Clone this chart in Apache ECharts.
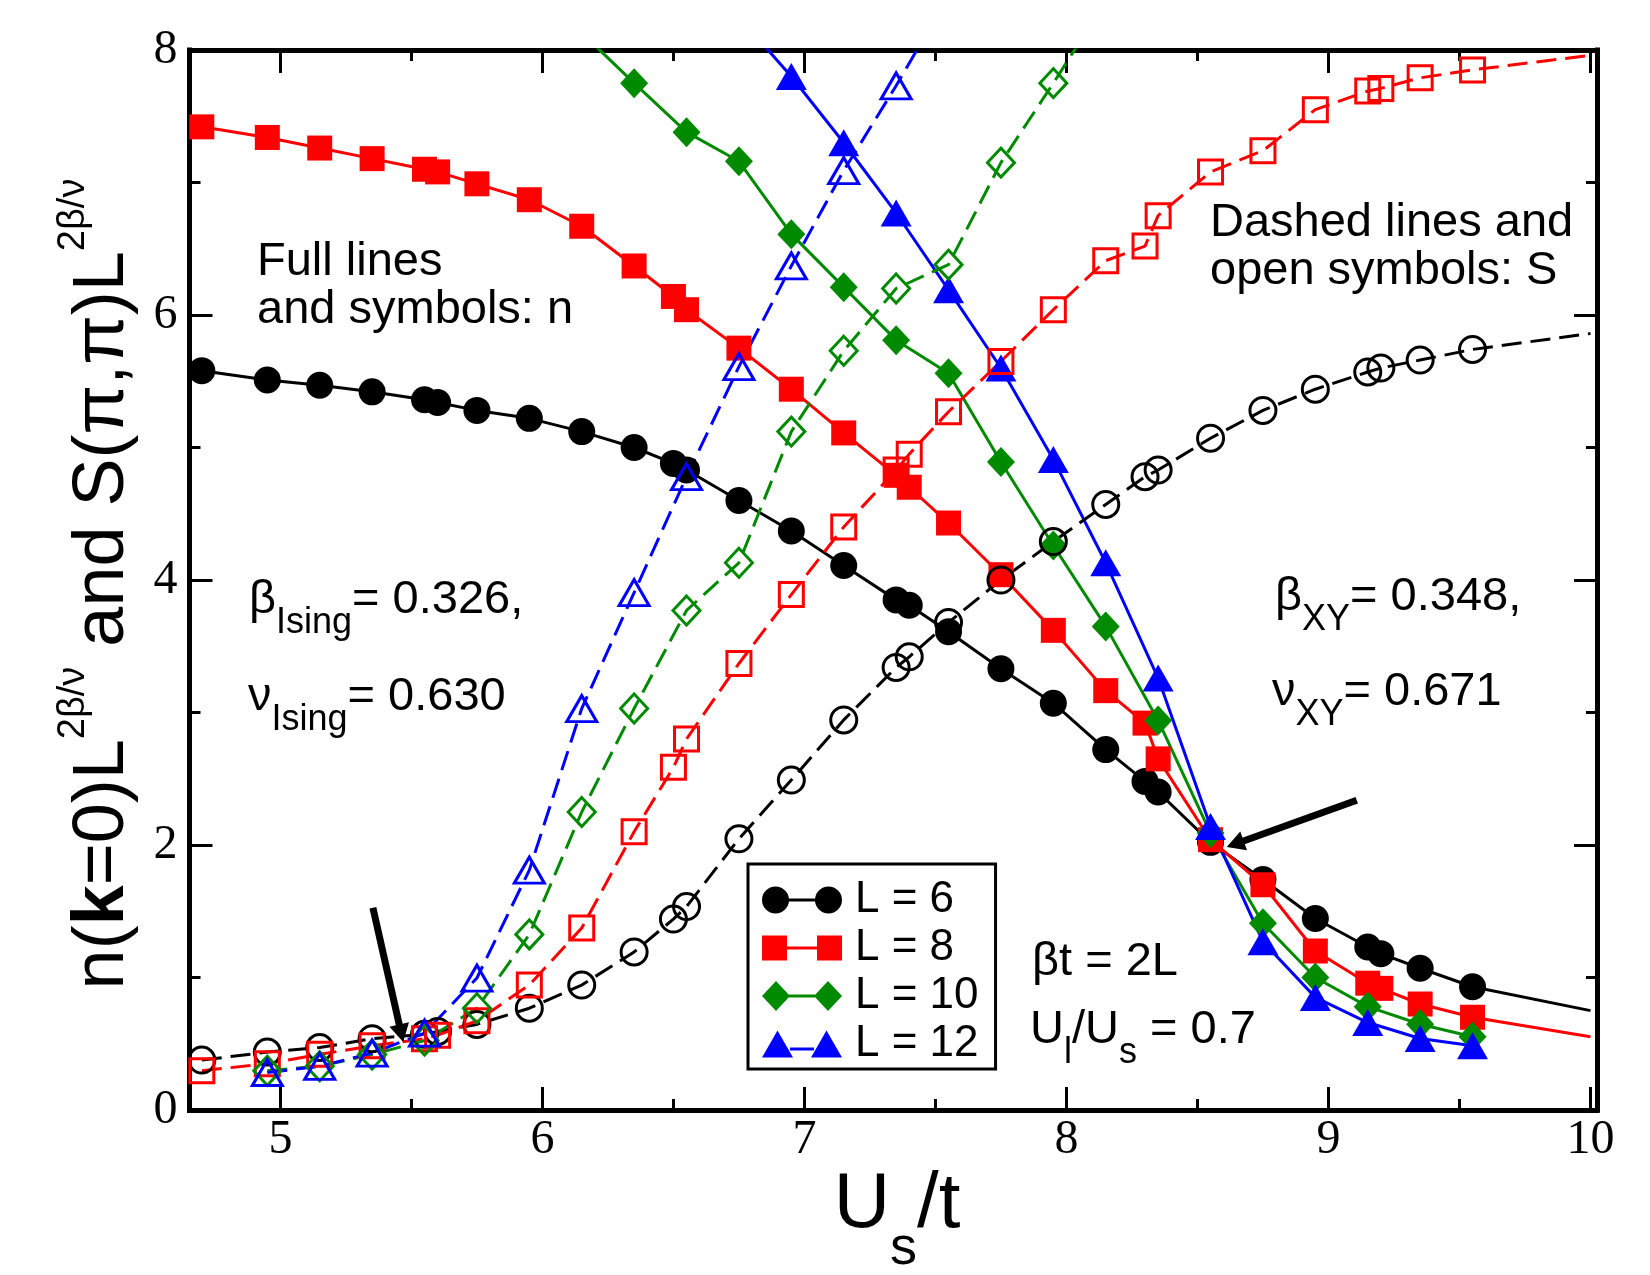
<!DOCTYPE html>
<html lang="en">
<head>
<meta charset="UTF-8">
<title>n(k=0) and S(pi,pi) vs Us/t</title>
<script src="https://cdn.jsdelivr.net/npm/echarts@6.0.0/dist/echarts.min.js"></script>
<style>html,body{margin:0;padding:0;background:#fff;}</style>
</head>
<body>
<div id="main" style="width:1650px;height:1275px;"></div>
<script type="text/javascript">

// U_s/t values used by the L = 6 and L = 8 sets (10 = where the line leaves the frame)
const usAll = [4.7, 4.95, 5.15, 5.35, 5.55, 5.6, 5.75, 5.95, 6.15, 6.35, 6.5, 6.55, 6.75, 6.95, 7.15,
  7.35, 7.4, 7.55, 7.75, 7.95, 8.15, 8.3, 8.35, 8.55, 8.75, 8.95, 9.15, 9.2, 9.35, 9.55, 10];

// full lines, filled symbols: n(k=0) L^(2b/v)
const n6 = [5.58, 5.51, 5.47, 5.42, 5.36, 5.34, 5.28, 5.22, 5.12, 5.00, 4.88, 4.83, 4.60, 4.37, 4.11,
  3.85, 3.81, 3.61, 3.33, 3.07, 2.72, 2.48, 2.40, 2.02, 1.74, 1.445, 1.23, 1.18, 1.07, 0.93, 0.75];
const n8 = [7.42, 7.34, 7.26, 7.18, 7.10, 7.08, 6.99, 6.87, 6.67, 6.37, 6.14, 6.04, 5.75, 5.44, 5.11,
  4.79, 4.70, 4.43, 4.04, 3.62, 3.165, 2.92, 2.65, 2.04, 1.70, 1.20, 0.957, 0.918, 0.80, 0.70, 0.553];
const usN10 = [6.15, 6.35, 6.55, 6.75, 6.95, 7.15, 7.35, 7.55, 7.75, 7.95, 8.15, 8.35, 8.55, 8.75, 8.95, 9.15, 9.35, 9.55];
const n10 = [8.13, 7.75, 7.38, 7.16, 6.61, 6.21, 5.81, 5.56, 4.89, 4.26, 3.65, 2.94, 2.09, 1.41, 1.00, 0.78, 0.647, 0.553];
const usN12 = [6.75, 6.95, 7.15, 7.35, 7.55, 7.75, 7.95, 8.15, 8.35, 8.55, 8.75, 8.95, 9.15, 9.35, 9.55];
const n12 = [8.25, 7.80, 7.30, 6.77, 6.19, 5.60, 4.91, 4.13, 3.26, 2.14, 1.27, 0.85, 0.66, 0.54, 0.485];

// dashed lines, open symbols: S(pi,pi) L^(2b/v)
const s6 = [0.377, 0.437, 0.471, 0.538, 0.571, 0.593, 0.646, 0.768, 0.943, 1.193, 1.441, 1.535, 2.047, 2.49, 2.944,
  3.34, 3.42, 3.68, 4.00, 4.29, 4.57, 4.78, 4.83, 5.07, 5.28, 5.44, 5.57, 5.60, 5.66, 5.74, 5.86];
const s8 = [0.296, 0.35, 0.42, 0.485, 0.538, 0.565, 0.673, 0.943, 1.373, 2.10, 2.586, 2.80, 3.37, 3.89, 4.40,
  4.83, 4.95, 5.27, 5.65, 6.04, 6.41, 6.52, 6.75, 7.08, 7.24, 7.55, 7.69, 7.71, 7.79, 7.85, 7.96];
const usS10 = [4.95, 5.15, 5.35, 5.55, 5.75, 5.95, 6.15, 6.35, 6.55, 6.75, 6.95, 7.15, 7.35, 7.55, 7.75, 7.95, 8.15];
const s10 = [0.296, 0.33, 0.418, 0.525, 0.768, 1.325, 2.249, 3.03, 3.77, 4.13, 5.12, 5.73, 6.20, 6.38, 7.15, 7.75, 8.37];
const usS12 = [4.95, 5.15, 5.35, 5.55, 5.75, 5.95, 6.15, 6.35, 6.55, 6.75, 6.95, 7.15, 7.35, 7.55];
const s12 = [0.283, 0.33, 0.43, 0.58, 0.996, 1.81, 3.03, 3.905, 4.78, 5.61, 6.37, 7.09, 7.73, 8.41];

const legendNames = ['L = 6', 'L = 8', 'L = 10', 'L = 12'];
const colors = ['#000000', '#ff0000', '#008a00', '#0000ff'];

// the two arrows pointing at the crossings
const arrowLeft = [[5.353, 1.526], [5.461, 0.579]];
const arrowRight = [[9.108, 2.338], [8.644, 2.008]];

const SANS = "'Liberation Sans', Arial, Helvetica, sans-serif";
const SERIF = "'Liberation Serif', 'Times New Roman', serif";

function pts(xs, ys) {
  return xs.map((x, i) => x >= 10 ? { value: [x, ys[i]], symbol: 'none' } : [x, ys[i]]);
}

function nSeries(name, color, symbol, size, xs, ys) {
  return {
    name: name, type: 'line', data: pts(xs, ys),
    symbol: symbol, symbolSize: size, showAllSymbol: true,
    itemStyle: { color: color },
    lineStyle: { color: color, width: 3 },
    emphasis: { disabled: true }, silent: true, clip: true
  };
}

function sSeries(name, color, symbol, size, xs, ys) {
  return {
    name: name, type: 'line', data: pts(xs, ys),
    symbol: symbol, symbolSize: size, showAllSymbol: true,
    itemStyle: { color: 'rgba(0,0,0,0)', borderColor: color, borderWidth: 3 },
    lineStyle: { color: color, width: 3, type: [20, 9] },
    emphasis: { disabled: true }, silent: true, clip: true
  };
}

const icons = [
  'path://M0,13.5A13.5,13.5,0,1,1,27,13.5A13.5,13.5,0,1,1,0,13.5ZM53,13.5A13.5,13.5,0,1,1,80,13.5A13.5,13.5,0,1,1,53,13.5ZM25,12L55,12L55,15L25,15Z',
  'path://M0,0L25,0L25,25L0,25ZM55,0L80,0L80,25L55,25ZM24,11L56,11L56,14L24,14Z',
  'path://M0,15L14,0L28,15L14,30ZM52,15L66,0L80,15L66,30ZM27,13.5L53,13.5L53,16.5L27,16.5Z',
  'path://M0,27L15.5,0L31,27ZM49,27L64.5,0L80,27ZM28,17L52,17L52,20L28,20Z'
];

const series = [
  nSeries(legendNames[0], colors[0], 'circle', 27, usAll, n6),
  nSeries(legendNames[1], colors[1], 'rect', 25, usAll, n8),
  nSeries(legendNames[2], colors[2], 'diamond', [28, 30], usN10, n10),
  nSeries(legendNames[3], colors[3], 'triangle', [31, 27], usN12, n12),
  sSeries('S 6', colors[0], 'circle', 26, usAll, s6),
  sSeries('S 8', colors[1], 'rect', 24, usAll, s8),
  sSeries('S 10', colors[2], 'diamond', [27, 29], usS10, s10),
  sSeries('S 12', colors[3], 'triangle', [30, 26], usS12, s12)
];

series[0].markLine = {
  silent: true, animation: false,
  symbol: ['none', 'triangle'], symbolSize: [20, 18],
  label: { show: false },
  lineStyle: { color: '#000', width: 7, type: 'solid' },
  emphasis: { disabled: true },
  data: [
    [{ coord: arrowLeft[0] }, { coord: arrowLeft[1] }],
    [{ coord: arrowRight[0] }, { coord: arrowRight[1] }]
  ]
};

function xAxisCfg(pos) {
  return {
    type: 'value', position: pos, min: 4.653, max: 10.025,
    axisLine: { show: true, onZero: false, lineStyle: { color: '#000', width: 5, cap: 'square' } },
    axisTick: { show: true, inside: true, length: 23, lineStyle: { color: '#000', width: 3 } },
    minorTick: { show: true, splitNumber: 2, length: 11, lineStyle: { color: '#000', width: 3 } },
    axisLabel: { show: pos === 'bottom', fontFamily: SERIF, fontSize: 48, color: '#000', margin: 6,
      showMinLabel: false, showMaxLabel: false },
    splitLine: { show: false }
  };
}

function yAxisCfg(pos) {
  return {
    type: 'value', position: pos, min: 0, max: 8, interval: 2,
    axisLine: { show: true, onZero: false, lineStyle: { color: '#000', width: 5, cap: 'square' } },
    axisTick: { show: true, inside: true, length: 23, lineStyle: { color: '#000', width: 3 } },
    minorTick: { show: true, splitNumber: 2, length: 11, lineStyle: { color: '#000', width: 3 } },
    axisLabel: { show: pos === 'left', fontFamily: SERIF, fontSize: 48, color: '#000', margin: 12 },
    splitLine: { show: false }
  };
}

const mainTxt = { fontFamily: SANS, fontSize: 47, lineHeight: 64, verticalAlign: 'top', fill: '#000' };
const subTxt = { fontFamily: SANS, fontSize: 36, verticalAlign: 'bottom', fill: '#000' };

function note(x, y, text, extra) {
  return Object.assign({
    type: 'text', x: x, y: y, silent: true, z: 100,
    style: { text: text, fontFamily: SANS, fontSize: 47, lineHeight: 48, fill: '#000',
      rich: { m: mainTxt, s: subTxt } }
  }, extra || {});
}

var myChart = echarts.init(document.getElementById('main'), null, { renderer: 'canvas' });

var option = {
  animation: false,
  backgroundColor: '#fff',
  grid: { left: 189.5, right: 53, top: 50, bottom: 165 },
  xAxis: [xAxisCfg('bottom'), xAxisCfg('top')],
  yAxis: [yAxisCfg('left'), yAxisCfg('right')],
  legend: {
    left: 748, top: 864, orient: 'vertical',
    data: legendNames.map((n, i) => ({ name: n, icon: icons[i] })),
    itemWidth: 80, itemHeight: 30, itemGap: 4,
    padding: [14, 17, 3, 14],
    backgroundColor: '#fff', borderColor: '#000', borderWidth: 3,
    selectedMode: false,
    textStyle: { fontFamily: SANS, fontSize: 44, lineHeight: 44, color: '#000', padding: [0, 0, 0, 8] }
  },
  graphic: [
    note(257, 238, 'Full lines\nand symbols: n'),
    note(1210, 199, 'Dashed lines and\nopen symbols: S'),
    note(249, 577, '{m|β}{s|Ising}{m|= 0.326,}'),
    note(248, 674, '{m|ν}{s|Ising}{m|= 0.630}'),
    note(1275, 574, '{m|β}{s|XY}{m|= 0.348,}'),
    note(1272, 669, '{m|ν}{s|XY}{m|= 0.671}'),
    note(1032, 938, 'βt = 2L'),
    note(1030, 1007, '{m|U}{s|l}{m|/U}{s|s}{m| = 0.7}'),
    {
      type: 'text', x: 97, y: 584, rotation: Math.PI / 2, silent: true,
      style: {
        text: '{m|n(}{b|k}{m|=0)L}{p|2β/ν}{m| and S(π,π)L}{p|2β/ν}',
        align: 'center', verticalAlign: 'middle', fill: '#000',
        rich: {
          m: { fontFamily: SANS, fontSize: 72, lineHeight: 84, verticalAlign: 'bottom', fill: '#000' },
          b: { fontFamily: SANS, fontSize: 72, fontWeight: 'bold', lineHeight: 84, verticalAlign: 'bottom', fill: '#000' },
          p: { fontFamily: SANS, fontSize: 38, verticalAlign: 'top', fill: '#000' }
        }
      }
    },
    {
      type: 'text', x: 897, y: 1166, silent: true,
      style: {
        text: '{m|U}{s|s}{m|/t}', align: 'center', verticalAlign: 'top', fill: '#000',
        rich: {
          m: { fontFamily: "'Liberation Sans Narrow', " + SANS, fontSize: 78, lineHeight: 110, verticalAlign: 'top', fill: '#000' },
          s: { fontFamily: "'Liberation Sans Narrow', " + SANS, fontSize: 54, verticalAlign: 'bottom', fill: '#000' }
        }
      }
    }
  ],
  series: series
};

myChart.setOption(option);

</script>
</body>
</html>
